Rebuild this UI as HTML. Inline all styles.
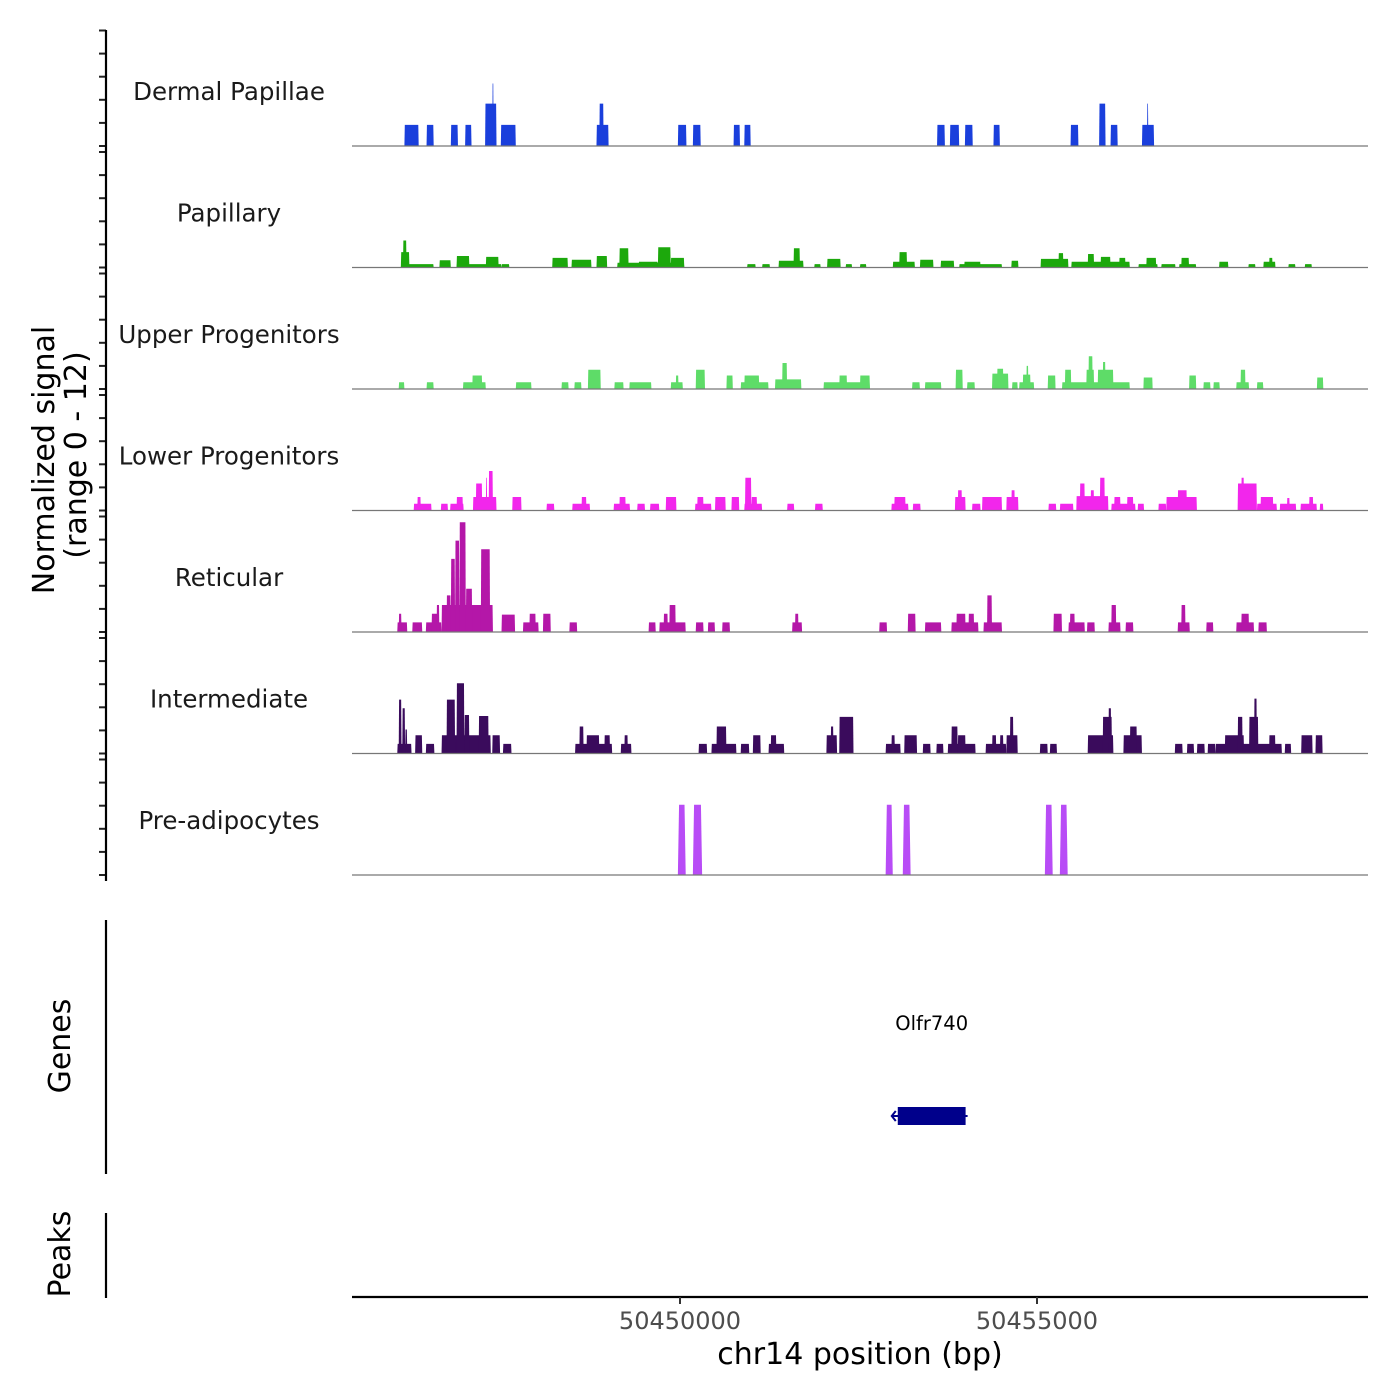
<!DOCTYPE html>
<html><head><meta charset="utf-8"><style>
html,body{margin:0;padding:0;background:#fff;}
svg{display:block;font-family:"DejaVu Sans","Liberation Sans",sans-serif;}
</style></head><body>
<svg id="chart" width="1400" height="1400" viewBox="0 0 1400 1400" xmlns="http://www.w3.org/2000/svg">
<g id="tracks"></g>
<g id="axes"></g>
<text x="0" y="0" transform="translate(54,460) rotate(-90)" text-anchor="middle" font-size="30" fill="#000">Normalized signal</text>
<text x="0" y="0" transform="translate(86,455) rotate(-90)" text-anchor="middle" font-size="30" fill="#000">(range 0 - 12)</text>
<line x1="106" y1="920" x2="106" y2="1174" stroke="#000" stroke-width="2.2"/>
<text transform="translate(70,1046) rotate(-90)" text-anchor="middle" font-size="30">Genes</text>
<line x1="106" y1="1213" x2="106" y2="1298" stroke="#000" stroke-width="2.2"/>
<text transform="translate(70,1254) rotate(-90)" text-anchor="middle" font-size="30">Peaks</text>
<g id="genes"></g>
<line x1="352" y1="1297" x2="1368" y2="1297" stroke="#000" stroke-width="2.2"/>
<g id="xticks"></g>
<text x="860" y="1364" text-anchor="middle" font-size="30" fill="#000">chr14 position (bp)</text>
</svg>
<script>
// genomic positions given as kb offset from ORIGIN
const ORIGIN = 50445000;
const trackNames = ["Dermal Papillae","Papillary","Upper Progenitors","Lower Progenitors","Reticular","Intermediate","Pre-adipocytes"];
const trackColors = ["#1a3fdc","#1ca80c","#5edc68","#f226ec","#b417a8","#3a0b5c","#b84cf6"];
const xTickValues = [50450000, 50455000];
const xTickLabels = ["50450000", "50455000"];
const geneNames = ["Olfr740"];
const geneStarts = [50453050];
const geneEnds = [50454000];

const dermalSegments = [[1.14,1.34,2.2],[1.45,1.55,2.2],[1.79,1.89,2.2],[1.99,2.08,2.2],[2.27,2.43,4.4],[2.37,2.39,6.5],[2.49,2.70,2.2],[3.83,4.00,2.2],[3.87,3.93,4.4],[4.97,5.09,2.2],[5.18,5.29,2.2],[5.75,5.84,2.2],[5.90,5.99,2.2],[8.60,8.71,2.2],[8.78,8.91,2.2],[8.99,9.10,2.2],[9.39,9.48,2.2],[10.47,10.58,2.2],[10.87,10.96,4.4],[11.03,11.13,2.2],[11.47,11.64,2.2],[11.54,11.56,4.4]];
const papillarySegments = [[1.09,1.55,0.35],[1.09,1.21,1.6],[1.12,1.17,2.8],[1.63,1.79,0.75],[1.87,2.50,0.35],[1.87,2.05,1.2],[2.28,2.46,1.1],[2.50,2.61,0.35],[3.21,3.43,1.0],[3.48,3.76,0.8],[3.83,3.98,1.2],[4.12,5.06,0.5],[4.15,4.28,2.0],[4.42,4.69,0.6],[4.69,4.87,2.1],[4.87,5.06,1.0],[5.94,6.06,0.35],[6.15,6.26,0.35],[6.38,6.73,0.7],[6.59,6.68,2.0],[6.88,6.97,0.35],[7.06,7.25,0.9],[7.32,7.41,0.35],[7.52,7.61,0.35],[7.98,8.29,0.6],[8.07,8.18,1.6],[8.36,8.55,0.8],[8.65,8.84,0.7],[8.91,9.51,0.35],[8.98,9.21,0.6],[9.64,9.74,0.7],[10.05,10.44,0.9],[10.30,10.37,1.5],[10.48,11.30,0.6],[10.71,10.80,1.4],[10.89,11.03,1.1],[11.15,11.24,1.0],[11.42,11.69,0.35],[11.53,11.67,1.0],[11.74,11.94,0.35],[11.99,12.23,0.35],[12.02,12.13,1.0],[12.55,12.68,0.6],[12.96,13.06,0.35],[13.17,13.34,0.6],[13.25,13.30,1.0],[13.52,13.62,0.35],[13.75,13.85,0.35]];
const upperSegments = [[1.06,1.14,0.7],[1.45,1.55,0.7],[1.96,2.28,0.7],[2.09,2.23,1.4],[2.70,2.92,0.7],[3.34,3.44,0.7],[3.52,3.62,0.7],[3.71,3.89,2.0],[4.08,4.21,0.7],[4.29,4.60,0.7],[4.87,5.04,0.7],[4.94,4.98,1.4],[5.22,5.35,2.0],[5.65,5.74,1.4],[5.85,6.24,0.7],[5.90,6.11,1.4],[6.33,6.70,1.0],[6.43,6.50,2.7],[7.01,7.66,0.7],[7.23,7.34,1.4],[7.52,7.66,1.4],[8.25,8.36,0.7],[8.43,8.66,0.7],[8.86,8.96,2.0],[9.02,9.13,0.7],[9.37,9.60,1.6],[9.44,9.53,2.1],[9.65,9.73,0.7],[9.75,9.96,0.7],[9.80,9.91,1.5],[9.85,9.88,2.4],[10.15,10.26,1.4],[10.35,11.30,0.7],[10.39,10.48,2.0],[10.69,10.80,2.0],[10.72,10.78,3.4],[10.85,11.07,2.0],[10.92,10.96,2.8],[11.49,11.62,1.2],[12.13,12.23,1.4],[12.33,12.43,0.7],[12.47,12.56,0.7],[12.79,12.97,0.7],[12.85,12.92,2.0],[13.08,13.17,0.7],[13.92,14.01,1.2]];
const lowerSegments = [[1.27,1.52,0.7],[1.32,1.37,1.4],[1.65,1.75,0.7],[1.78,1.97,0.7],[1.87,1.96,1.4],[2.10,2.43,1.4],[2.14,2.23,2.8],[2.28,2.30,3.4],[2.32,2.38,4.1],[2.65,2.78,1.4],[3.13,3.24,0.7],[3.49,3.74,0.7],[3.62,3.69,1.4],[4.07,4.30,0.7],[4.15,4.24,1.4],[4.40,4.51,0.7],[4.58,4.71,0.7],[4.80,4.95,1.4],[5.21,5.44,0.7],[5.24,5.33,1.4],[5.49,5.64,1.4],[5.72,5.83,1.4],[5.90,6.15,0.7],[5.91,6.00,3.4],[6.00,6.08,1.4],[6.50,6.60,0.7],[6.89,7.00,0.7],[7.96,8.20,0.7],[8.00,8.16,1.4],[8.26,8.37,0.7],[8.85,9.00,1.4],[8.89,8.95,2.1],[9.09,9.21,0.7],[9.23,9.51,1.4],[9.57,9.74,1.4],[9.64,9.69,2.1],[10.16,10.27,0.7],[10.32,10.51,0.7],[10.55,11.00,1.5],[10.60,10.67,2.8],[10.75,10.80,2.1],[10.88,10.95,3.4],[11.04,11.38,0.7],[11.08,11.17,1.4],[11.26,11.35,1.4],[11.41,11.50,0.7],[11.70,11.81,0.7],[11.81,12.24,1.4],[11.97,12.10,2.1],[12.81,13.08,2.8],[12.86,12.90,3.4],[13.08,13.36,0.7],[13.13,13.31,1.4],[13.40,13.63,0.7],[13.50,13.54,1.3],[13.69,13.92,0.7],[13.81,13.87,1.4],[13.96,14.01,0.7]];
const reticularSegments = [[1.04,1.18,1.0],[1.06,1.10,1.9],[1.25,1.39,1.0],[1.44,1.66,1.0],[1.52,1.62,1.9],[1.59,1.63,2.8],[1.66,2.38,2.8],[1.73,1.79,3.8],[1.79,1.85,7.6],[1.85,1.91,9.5],[1.91,2.00,11.4],[2.00,2.09,4.5],[2.21,2.34,8.6],[2.50,2.69,1.8],[2.80,3.02,1.0],[2.89,2.98,1.9],[3.08,3.19,1.9],[3.45,3.56,1.0],[4.56,4.66,1.0],[4.71,5.08,1.0],[4.77,4.83,1.9],[4.85,4.94,2.8],[5.22,5.33,1.0],[5.39,5.49,1.0],[5.59,5.70,1.0],[6.57,6.71,1.0],[6.61,6.66,1.9],[7.79,7.90,1.0],[8.19,8.30,1.9],[8.43,8.66,1.0],[8.80,9.18,1.0],[8.87,9.00,1.9],[9.04,9.12,1.9],[9.25,9.51,1.0],[9.30,9.37,3.8],[10.23,10.35,1.9],[10.44,10.67,1.0],[10.46,10.53,1.9],[10.70,10.81,1.0],[11.00,11.17,1.0],[11.04,11.11,2.8],[11.24,11.35,1.0],[11.97,12.14,1.0],[12.02,12.08,2.8],[12.37,12.47,1.0],[12.79,13.04,1.0],[12.86,12.97,1.9],[13.10,13.22,1.0]];
const intermediateSegments = [[1.04,1.24,1.0],[1.06,1.10,5.6],[1.11,1.15,4.7],[1.15,1.18,2.5],[1.29,1.39,1.9],[1.44,1.56,1.0],[1.66,2.35,1.9],[1.73,1.85,5.6],[1.87,1.98,7.3],[1.98,2.05,4.0],[2.18,2.32,3.9],[2.37,2.48,1.9],[2.52,2.64,1.0],[3.53,4.05,1.0],[3.59,3.65,2.8],[3.69,3.87,1.9],[3.94,4.02,1.9],[4.17,4.32,1.0],[4.22,4.27,1.9],[5.26,5.38,1.0],[5.44,5.79,1.0],[5.51,5.65,2.8],[5.85,5.97,1.0],[6.02,6.13,1.9],[6.24,6.46,1.0],[6.27,6.35,1.9],[7.05,7.20,1.9],[7.11,7.15,2.8],[7.23,7.43,3.8],[7.88,8.09,1.0],[7.96,8.01,1.9],[8.14,8.32,1.9],[8.40,8.51,1.0],[8.59,8.69,1.0],[8.75,9.14,1.0],[8.80,8.89,2.8],[8.89,9.00,1.9],[9.28,9.57,1.0],[9.37,9.43,1.9],[9.48,9.53,1.9],[9.57,9.73,1.9],[9.62,9.67,3.8],[10.04,10.15,1.0],[10.18,10.28,1.0],[10.71,11.07,1.9],[10.92,11.05,3.8],[11.00,11.04,4.7],[11.21,11.47,1.9],[11.30,11.40,2.8],[11.93,12.04,1.0],[12.10,12.20,1.0],[12.24,12.35,1.0],[12.39,12.50,1.0],[12.50,13.43,1.0],[12.63,12.90,1.9],[12.81,12.88,3.8],[12.97,13.10,3.8],[13.04,13.08,5.7],[13.25,13.34,1.9],[13.47,13.56,1.0],[13.70,13.86,1.9],[13.90,14.00,1.9]];
const preadipoSegments = [[4.97,5.08,7.3],[5.18,5.31,7.3],[7.88,7.98,7.3],[8.12,8.23,7.3],[10.11,10.22,7.3],[10.32,10.43,7.3]];
const allTracks = [dermalSegments,papillarySegments,upperSegments,lowerSegments,reticularSegments,intermediateSegments,preadipoSegments];

const NS = "http://www.w3.org/2000/svg";
const X0 = 50445406, X1 = 50459636, PX0 = 352, PX1 = 1368;
function xScale(bp){ return PX0 + (bp - X0) * (PX1 - PX0) / (X1 - X0); }
const TRACK_TOP = 146, TRACK_STEP = 121.5, PX_PER_UNIT = 9.625;
function baseline(i){ return TRACK_TOP + i * TRACK_STEP; }
function yScale(i, v){ return baseline(i) - v * PX_PER_UNIT; }
function mk(tag, attrs){ const e = document.createElementNS(NS, tag); for (const k in attrs) e.setAttribute(k, attrs[k]); return e; }

const tracksG = document.getElementById('tracks');
const axesG = document.getElementById('axes');
allTracks.forEach((segs, i) => {
  const g = mk('g', {});
  
  
  const label = mk('text', {x: 229, y: baseline(i) - 46, 'text-anchor': 'middle', 'font-size': 24.5, fill: '#1a1a1a'});
  label.textContent = trackNames[i];
  
  
  g.appendChild(label);
  segs.forEach(s => {
    const xa = xScale(ORIGIN + s[0]*1000), xb = xScale(ORIGIN + s[1]*1000);
    const yb = baseline(i), yt = yScale(i, s[2]);
    const tap = i === 6 ? 1.2 : 0.4;
    const p = mk('polygon', {points: `${xa},${yb} ${xa+tap},${yt} ${xb-tap},${yt} ${xb},${yb}`, fill: trackColors[i]});
    
    
    g.appendChild(p);
  });
  const bl = mk('line', {x1: PX0, x2: PX1, y1: baseline(i), y2: baseline(i), stroke: '#777', 'stroke-width': 1.2});
  
  
  g.appendChild(bl);
  tracksG.appendChild(g);
  for (let k = 0; k <= 5; k++) {
    const y = baseline(i) - k * 23.1;
    const t = mk('line', {x1: 99, x2: 106, y1: y, y2: y, stroke: '#222', 'stroke-width': 2});
    
    
    axesG.appendChild(t);
  }
});
const yl = mk('line', {x1: 106, x2: 106, y1: 30, y2: 881, stroke: '#000', 'stroke-width': 2.2});


axesG.appendChild(yl);

const xt = document.getElementById('xticks');
xTickValues.forEach((v, j) => {
  const x = xScale(v);
  const t = mk('line', {x1: x, x2: x, y1: 1297, y2: 1304, stroke: '#333', 'stroke-width': 2});
  
  
  xt.appendChild(t);
  const l = mk('text', {x: x, y: 1329, 'text-anchor': 'middle', 'font-size': 24, fill: '#4d4d4d'});
  l.textContent = xTickLabels[j];
  
  
  xt.appendChild(l);
});

const gg = document.getElementById('genes');
geneNames.forEach((n, j) => {
  const xa = xScale(geneStarts[j]), xb = xScale(geneEnds[j]);
  const r = mk('rect', {x: xa, y: 1107, width: xb - xa, height: 18, fill: '#00008b'});
  
  
  gg.appendChild(r);
  const ln = mk('line', {x1: xa - 6, x2: xb + 2, y1: 1116, y2: 1116, stroke: '#00008b', 'stroke-width': 2});
  
  
  gg.appendChild(ln);
  const ar = mk('path', {d: `M${xa-2},1111 L${xa-6},1116 L${xa-2},1121`, stroke: '#00008b', 'stroke-width': 2, fill: 'none'});
  
  
  gg.appendChild(ar);
  const lab = mk('text', {x: (xa + xb) / 2, y: 1030, 'text-anchor': 'middle', 'font-size': 19.5, fill: '#000'});
  lab.textContent = n;
  
  
  gg.appendChild(lab);
});
</script>
</body></html>
